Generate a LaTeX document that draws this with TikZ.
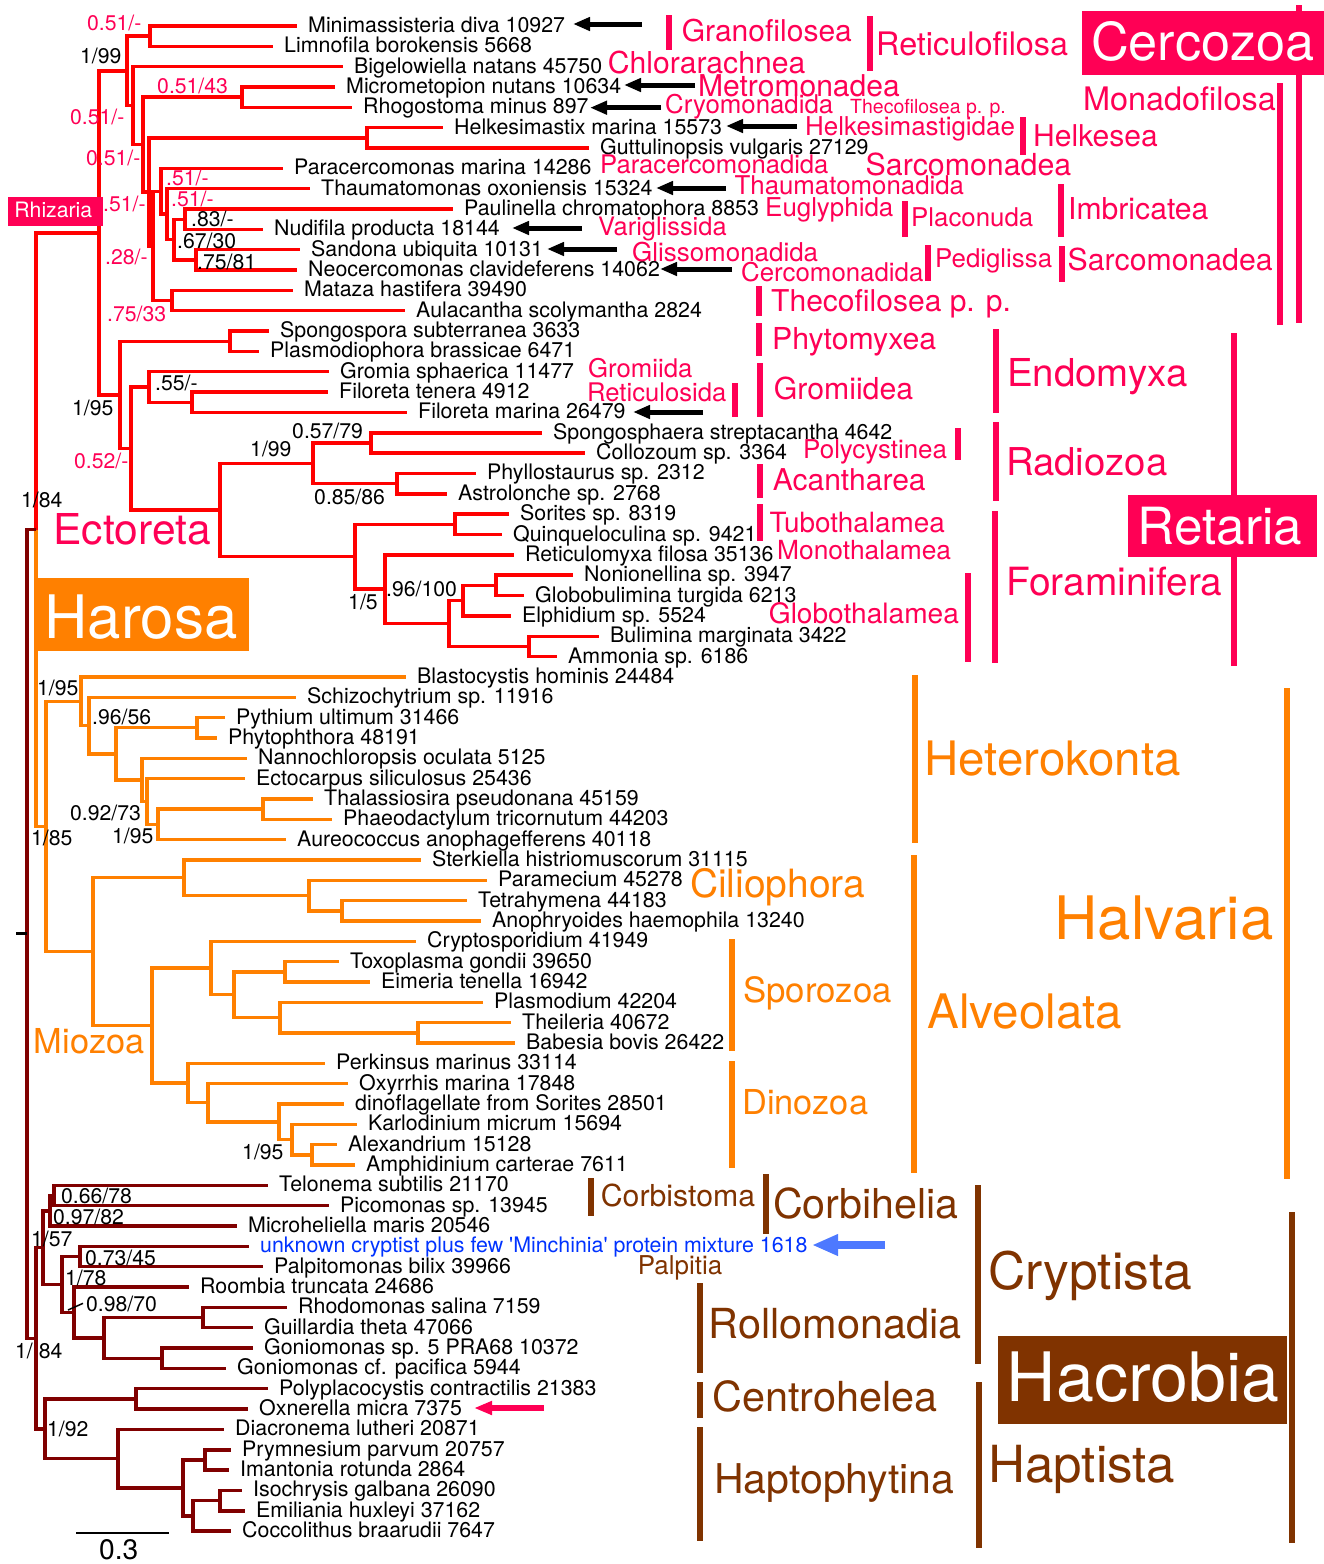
\documentclass[tikz,border=0pt]{standalone}
\usepackage{fontspec}
\setmainfont{TeX Gyre Heros}
\usetikzlibrary{calc,arrows.meta}
\definecolor{tred}{RGB}{255,0,0}
\definecolor{tora}{RGB}{255,128,0}
\definecolor{tmar}{RGB}{128,0,0}
\definecolor{cpink}{RGB}{255,0,85}
\definecolor{cbrown}{RGB}{128,51,0}
\definecolor{cblue}{RGB}{0,51,255}
\definecolor{ablue}{RGB}{77,121,255}
\newcommand\FS[1]{\fontsize{\fpeval{round(#1*1.025,2)}}{\fpeval{round(#1*1.025,2)}}\selectfont}
\newcommand\lf[4]{\coordinate (#1) at (#2,{26+(#3-1)*20.34}); \node[leaf] (#1t) at (#1) {#4};}
\newcommand\inode[4]{\coordinate (#1m) at ($(#3)!0.5!(#4)$); \coordinate (#1x) at (#2,0); \coordinate (#1) at (#1x |- #1m);}
\newcommand\ed[4]{\draw[#1] (#2) |- (#3) (#2) |- (#4);}
\newcommand\clbar[5]{\coordinate (#2a) at (#3,#4); \coordinate (#2b) at (#3,#5); \draw[#1] (#2a) -- (#2b);}
\newcommand\arw[5]{\coordinate (#2s) at (#3,#5); \coordinate (#2e) at (#4,#5); \draw[#1] (#2s) -- (#2e);}
\begin{document}
\begin{tikzpicture}[x=1pt,y=-1pt,
 leaf/.style={anchor=base west, inner sep=0pt, font=\FS{20.85}, xshift=11pt, yshift=-6.5pt},
 sup/.style={anchor=base west, inner sep=0pt, font=\FS{20.7}},
 lab/.style={anchor=base west, inner sep=0pt},
 rbr/.style={draw=tred, line width=3.4pt},
 obr/.style={draw=tora, line width=3.4pt},
 mbr/.style={draw=tmar, line width=3.4pt},
 pbar/.style={draw=cpink, line width=5.5pt},
 obar/.style={draw=tora, line width=5.5pt},
 bbar/.style={draw=cbrown, line width=5.5pt},
 barr/.style={draw=black, line width=5pt, -{Triangle[length=17pt,width=13pt]}},
]
\useasboundingbox (0,0) rectangle (1324,1564);
\fill[white] (0,0) rectangle (1324,1564);
% ---------------- leaves
\lf{Mini}{297}{1}{Minimassisteria diva 10927}
\lf{Limn}{273}{2}{Limnofila borokensis 5668}
\lf{Bige}{343}{3}{Bigelowiella natans 45750}
\lf{Micr}{335}{4}{Micrometopion nutans 10634}
\lf{Rhog}{352}{5}{Rhogostoma minus 897}
\lf{Helk}{443}{6}{Helkesimastix marina 15573}
\lf{Gutt}{589}{7}{Guttulinopsis vulgaris 27129}
\lf{Para}{283}{8}{Paracercomonas marina 14286}
\lf{Thau}{310}{9}{Thaumatomonas oxoniensis 15324}
\lf{Paul}{453}{10}{Paulinella chromatophora 8853}
\lf{Nudi}{263}{11}{Nudifila producta 18144}
\lf{Sand}{300}{12}{Sandona ubiquita 10131}
\lf{Neoc}{297}{13}{Neocercomonas clavideferens 14062}
\lf{Mata}{293}{14}{Mataza hastifera 39490}
\lf{Aula}{405}{15}{Aulacantha scolymantha 2824}
\lf{Spon}{269}{16}{Spongospora subterranea 3633}
\lf{Plas}{259}{17}{Plasmodiophora brassicae 6471}
\lf{Grom}{329}{18}{Gromia sphaerica 11477}
\lf{Filt}{328}{19}{Filoreta tenera 4912}
\lf{Film}{407}{20}{Filoreta marina 26479}
\lf{Spgs}{542}{21}{Spongosphaera streptacantha 4642}
\lf{Coll}{585}{22}{Collozoum sp. 3364}
\lf{Phyl}{476}{23}{Phyllostaurus sp. 2312}
\lf{Astr}{447}{24}{Astrolonche sp. 2768}
\lf{Sori}{509}{25}{Sorites sp. 8319}
\lf{Quin}{502}{26}{Quinqueloculina sp. 9421}
\lf{Reti}{514}{27}{Reticulomyxa filosa 35136}
\lf{Noni}{573}{28}{Nonionellina sp. 3947}
\lf{Glob}{524}{29}{Globobulimina turgida 6213}
\lf{Elph}{511}{30}{Elphidium sp. 5524}
\lf{Buli}{599}{31}{Bulimina marginata 3422}
\lf{Ammo}{557}{32}{Ammonia sp. 6186}
\lf{Blas}{406}{33}{Blastocystis hominis 24484}
\lf{Schi}{296}{34}{Schizochytrium sp. 11916}
\lf{Pyth}{225}{35}{Pythium ultimum 31466}
\lf{Phyt}{217}{36}{Phytophthora 48191}
\lf{Nann}{247}{37}{Nannochloropsis oculata 5125}
\lf{Ecto}{245}{38}{Ectocarpus siliculosus 25436}
\lf{Thal}{313}{39}{Thalassiosira pseudonana 45159}
\lf{Phae}{332}{40}{Phaeodactylum tricornutum 44203}
\lf{Aure}{286}{41}{Aureococcus anophagefferens 40118}
\lf{Ster}{421}{42}{Sterkiella histriomuscorum 31115}
\lf{Pame}{487}{43}{Paramecium 45278}
\lf{Tetr}{467}{44}{Tetrahymena 44183}
\lf{Anop}{481}{45}{Anophryoides haemophila 13240}
\lf{Cryp}{416}{46}{Cryptosporidium 41949}
\lf{Toxo}{339}{47}{Toxoplasma gondii 39650}
\lf{Eime}{370}{48}{Eimeria tenella 16942}
\lf{Plsm}{483}{49}{Plasmodium 42204}
\lf{Thei}{511}{50}{Theileria 40672}
\lf{Babe}{515}{51}{Babesia bovis 26422}
\lf{Perk}{325}{52}{Perkinsus marinus 33114}
\lf{Oxyr}{348}{53}{Oxyrrhis marina 17848}
\lf{Dino}{344}{54}{dinoflagellate from Sorites 28501}
\lf{Karl}{357}{55}{Karlodinium micrum 15694}
\lf{Alex}{337}{56}{Alexandrium 15128}
\lf{Amph}{355}{57}{Amphidinium carterae 7611}
\lf{Telo}{268}{58}{Telonema subtilis 21170}
\lf{Pico}{329}{59}{Picomonas sp. 13945}
\lf{Mhel}{237}{60}{Microheliella maris 20546}
\lf{Unkn}{249}{61}{\textcolor{cblue}{unknown cryptist plus few \textquotesingle Minchinia\textquotesingle{} protein mixture 1618}}
\lf{Palp}{263}{62}{Palpitomonas bilix 39966}
\lf{Room}{189}{63}{Roombia truncata 24686}
\lf{Rhod}{287}{64}{Rhodomonas salina 7159}
\lf{Guil}{253}{65}{Guillardia theta 47066}
\lf{Gonf}{253}{66}{Goniomonas sp. 5 PRA68 10372}
\lf{Gonp}{226}{67}{Goniomonas cf. pacifica 5944}
\lf{Poly}{268}{68}{Polyplacocystis contractilis 21383}
\lf{Oxne}{248}{69}{Oxnerella micra 7375}
\lf{Diac}{224}{70}{Diacronema lutheri 20871}
\lf{Prym}{231}{71}{Prymnesium parvum 20757}
\lf{Iman}{229}{72}{Imantonia rotunda 2864}
\lf{Isoc}{242}{73}{Isochrysis galbana 26090}
\lf{Emil}{245}{74}{Emiliania huxleyi 37162}
\lf{Cocc}{231}{75}{Coccolithus braarudii 7647}
% ---------------- internal nodes
\inode{nGran}{150}{Mini}{Limn}
\inode{nMetc}{242}{Micr}{Rhog}
\inode{nHelk}{367}{Helk}{Gutt}
\inode{nF}{185}{Paul}{Nudi}
\inode{nG}{196}{Sand}{Neoc}
\inode{nE}{174}{nF}{nG}
\inode{nD}{167}{Thau}{nE}
\inode{nPara}{161}{Para}{nD}
\inode{nMata}{172}{Mata}{Aula}
\inode{nB}{153}{nPara}{nMata}
\inode{nC}{149}{nHelk}{nB}
\inode{nA}{143}{nMetc}{nC}
\inode{nBig}{133}{Bige}{nA}
\inode{nCerc}{127}{nGran}{nBig}
\inode{nPhyt}{230}{Spon}{Plas}
\inode{nFilo}{192}{Filt}{Film}
\inode{nGrom}{149}{Grom}{nFilo}
\inode{nPolc}{371}{Spgs}{Coll}
\inode{nAcan}{397}{Phyl}{Astr}
\inode{nRadz}{313}{nPolc}{nAcan}
\inode{nTubo}{455}{Sori}{Quin}
\inode{nNoGl}{496}{Noni}{Glob}
\inode{nElph}{463}{nNoGl}{Elph}
\inode{nBuAm}{529}{Buli}{Ammo}
\inode{nGlbt}{449}{nElph}{nBuAm}
\inode{nRetm}{385}{Reti}{nGlbt}
\inode{nFora}{355}{nTubo}{nRetm}
\inode{nReta}{220}{nRadz}{nFora}
\inode{nGrRe}{131}{nGrom}{nReta}
\inode{nEnRe}{120}{nPhyt}{nGrRe}
\inode{nRhiz}{99}{nCerc}{nEnRe}
\inode{nPyPh}{197}{Pyth}{Phyt}
\inode{nThPh}{263}{Thal}{Phae}
\inode{nDiat}{158}{nThPh}{Aure}
\inode{nEcto}{147}{Ecto}{nDiat}
\inode{nNann}{142}{Nann}{nEcto}
\inode{nOomy}{116}{nPyPh}{nNann}
\inode{nSchi}{89}{Schi}{nOomy}
\inode{nHete}{81}{Blas}{nSchi}
\inode{nTeAn}{342}{Tetr}{Anop}
\inode{nPame}{309}{Pame}{nTeAn}
\inode{nCili}{184}{Ster}{nPame}
\inode{nToEi}{285}{Toxo}{Eime}
\inode{nThBa}{418}{Thei}{Babe}
\inode{nPlsm}{280}{Plsm}{nThBa}
\inode{nApic}{234}{nToEi}{nPlsm}
\inode{nSpor}{211}{Cryp}{nApic}
\inode{nAlAm}{312}{Alex}{Amph}
\inode{nKarl}{292}{Karl}{nAlAm}
\inode{nDinf}{279}{Dino}{nKarl}
\inode{nOxyr}{208}{Oxyr}{nDinf}
\inode{nDinz}{188}{Perk}{nOxyr}
\inode{nMioz}{152}{nSpor}{nDinz}
\inode{nAlve}{93}{nCili}{nMioz}
\inode{nHalv}{46}{nHete}{nAlve}
\inode{nHaro}{36}{nRhiz}{nHalv}
\inode{nTePi}{54}{Telo}{Pico}
\inode{nCorb}{50}{nTePi}{Mhel}
\inode{nPalp}{80}{Unkn}{Palp}
\inode{nRhGu}{203}{Rhod}{Guil}
\inode{nGoni}{162}{Gonf}{Gonp}
\inode{nCrGo}{104}{nRhGu}{nGoni}
\inode{nRoll}{74}{Room}{nCrGo}
\inode{nCrpt}{62}{nPalp}{nRoll}
\inode{nCoCr}{43}{nCorb}{nCrpt}
\inode{nCent}{136}{Poly}{Oxne}
\inode{nPrIm}{205}{Prym}{Iman}
\inode{nIsEm}{220}{Isoc}{Emil}
\inode{nCocc}{193}{nIsEm}{Cocc}
\inode{nPrym}{183}{nPrIm}{nCocc}
\inode{nHtph}{118}{Diac}{nPrym}
\inode{nHpta}{45}{nCent}{nHtph}
\inode{nHacr}{36}{nCoCr}{nHpta}
\inode{nRoot}{27}{nHaro}{nHacr}
\coordinate (rootx) at (16,0);
\coordinate (rootL) at (rootx |- nRoot);
% ---------------- branches
\ed{rbr}{nGran}{Mini}{Limn}
\ed{rbr}{nMetc}{Micr}{Rhog}
\ed{rbr}{nHelk}{Helk}{Gutt}
\ed{rbr}{nF}{Paul}{Nudi}
\ed{rbr}{nG}{Sand}{Neoc}
\ed{rbr}{nE}{nF}{nG}
\ed{rbr}{nD}{Thau}{nE}
\ed{rbr}{nPara}{Para}{nD}
\ed{rbr}{nMata}{Mata}{Aula}
\ed{rbr}{nB}{nPara}{nMata}
\ed{rbr}{nC}{nHelk}{nB}
\ed{rbr}{nA}{nMetc}{nC}
\ed{rbr}{nBig}{Bige}{nA}
\ed{rbr}{nCerc}{nGran}{nBig}
\ed{rbr}{nPhyt}{Spon}{Plas}
\ed{rbr}{nFilo}{Filt}{Film}
\ed{rbr}{nGrom}{Grom}{nFilo}
\ed{rbr}{nPolc}{Spgs}{Coll}
\ed{rbr}{nAcan}{Phyl}{Astr}
\ed{rbr}{nRadz}{nPolc}{nAcan}
\ed{rbr}{nTubo}{Sori}{Quin}
\ed{rbr}{nNoGl}{Noni}{Glob}
\ed{rbr}{nElph}{nNoGl}{Elph}
\ed{rbr}{nBuAm}{Buli}{Ammo}
\ed{rbr}{nGlbt}{nElph}{nBuAm}
\ed{rbr}{nRetm}{Reti}{nGlbt}
\ed{rbr}{nFora}{nTubo}{nRetm}
\ed{rbr}{nReta}{nRadz}{nFora}
\ed{rbr}{nGrRe}{nGrom}{nReta}
\ed{rbr}{nEnRe}{nPhyt}{nGrRe}
\ed{rbr}{nRhiz}{nCerc}{nEnRe}
\ed{obr}{nPyPh}{Pyth}{Phyt}
\ed{obr}{nThPh}{Thal}{Phae}
\ed{obr}{nDiat}{nThPh}{Aure}
\ed{obr}{nEcto}{Ecto}{nDiat}
\ed{obr}{nNann}{Nann}{nEcto}
\ed{obr}{nOomy}{nPyPh}{nNann}
\ed{obr}{nSchi}{Schi}{nOomy}
\ed{obr}{nHete}{Blas}{nSchi}
\ed{obr}{nTeAn}{Tetr}{Anop}
\ed{obr}{nPame}{Pame}{nTeAn}
\ed{obr}{nCili}{Ster}{nPame}
\ed{obr}{nToEi}{Toxo}{Eime}
\ed{obr}{nThBa}{Thei}{Babe}
\ed{obr}{nPlsm}{Plsm}{nThBa}
\ed{obr}{nApic}{nToEi}{nPlsm}
\ed{obr}{nSpor}{Cryp}{nApic}
\ed{obr}{nAlAm}{Alex}{Amph}
\ed{obr}{nKarl}{Karl}{nAlAm}
\ed{obr}{nDinf}{Dino}{nKarl}
\ed{obr}{nOxyr}{Oxyr}{nDinf}
\ed{obr}{nDinz}{Perk}{nOxyr}
\ed{obr}{nMioz}{nSpor}{nDinz}
\ed{obr}{nAlve}{nCili}{nMioz}
\ed{obr}{nHalv}{nHete}{nAlve}
\draw[rbr] (nHaro) |- (nRhiz);
\draw[obr] (nHaro) |- (nHalv);
\ed{mbr}{nTePi}{Telo}{Pico}
\ed{mbr}{nCorb}{nTePi}{Mhel}
\ed{mbr}{nPalp}{Unkn}{Palp}
\ed{mbr}{nRhGu}{Rhod}{Guil}
\ed{mbr}{nGoni}{Gonf}{Gonp}
\ed{mbr}{nCrGo}{nRhGu}{nGoni}
\ed{mbr}{nRoll}{Room}{nCrGo}
\ed{mbr}{nCrpt}{nPalp}{nRoll}
\ed{mbr}{nCoCr}{nCorb}{nCrpt}
\ed{mbr}{nCent}{Poly}{Oxne}
\ed{mbr}{nPrIm}{Prym}{Iman}
\ed{mbr}{nIsEm}{Isoc}{Emil}
\ed{mbr}{nCocc}{nIsEm}{Cocc}
\ed{mbr}{nPrym}{nPrIm}{nCocc}
\ed{mbr}{nHtph}{Diac}{nPrym}
\ed{mbr}{nHpta}{nCent}{nHtph}
\ed{mbr}{nHacr}{nCoCr}{nHpta}
\ed{mbr}{nRoot}{nHaro}{nHacr}
\draw[black, line width=3pt] (rootL) -- (nRoot);
% ---------------- support values
\begin{scope}[every node/.style={sup, text=cpink}]
\node (s1) at (87,30.7) {0.51/-};
\node (s2) at (157,93.3) {0.51/43};
\node (s3) at (70,124) {0.51/-};
\node (s4) at (86,165) {0.51/-};
\node (s5) at (166,185.7) {.51/-};
\node (s6) at (103,211) {.51/-};
\node (s7) at (171,206.7) {.51/-};
\node (s8) at (105,264.3) {.28/-};
\node (s9) at (107,321) {.75/33};
\node (s10) at (74,468.3) {0.52/-};
\end{scope}
\begin{scope}[every node/.style={sup, text=black}]
\node (k1) at (80,63.3) {1/99};
\node (k2) at (191,226.7) {.83/-};
\node (k3) at (177,248.3) {.67/30};
\node (k4) at (197,269.3) {.75/81};
\node (k5) at (155,390.7) {.55/-};
\node (k6) at (72,415.7) {1/95};
\node (k7) at (21,507.7) {1/84};
\node (k8) at (250,456.7) {1/99};
\node (k9) at (292,438.3) {0.57/79};
\node (k10) at (314,504.3) {0.85/86};
\node (k11) at (348,609.3) {1/5};
\node (k12) at (386,596) {.96/100};
\node (k13) at (37,695) {1/95};
\node (k14) at (92,724.3) {.96/56};
\node (k15) at (70,820.7) {0.92/73};
\node (k16) at (31,845) {1/85};
\node (k17) at (112,843.3) {1/95};
\node (k18) at (242,1159.3) {1/95};
\node (k19) at (61,1203.3) {0.66/78};
\node (k20) at (53,1224.3) {0.97/82};
\node (k21) at (31,1246) {1/57};
\node (k22) at (85,1265) {0.73/45};
\node (k23) at (65,1285) {1/78};
\node (k24) at (86,1311.7) {0.98/70};
\node (k25) at (15,1358.3) {1/ 84};
\node (k26) at (47,1436.7) {1/92};
\end{scope}
\coordinate (ld1) at (68,1310);
\coordinate (ld2) at (83,1303.3);
\draw[black, line width=1.5pt] (ld1) -- (ld2);
% ---------------- clade bars
\clbar{pbar}{bGran}{669}{15}{50}
\clbar{pbar}{bReti}{870}{16}{71}
\clbar{pbar}{bCerc}{1299}{5}{323}
\clbar{pbar}{bMona}{1280}{83}{325}
\clbar{pbar}{bHelk}{1023}{117}{155}
\clbar{pbar}{bPlac}{905}{201}{237}
\clbar{pbar}{bImbr}{1061}{184}{237}
\clbar{pbar}{bPedi}{928}{245}{281}
\clbar{pbar}{bSarc}{1062}{246}{282}
\clbar{pbar}{bThec}{759}{286}{316}
\clbar{pbar}{bPhyt}{759}{323}{356}
\clbar{pbar}{bEndo}{996}{329}{413}
\clbar{pbar}{bReta}{1234}{333}{666}
\clbar{pbar}{bRsid}{735}{383}{417}
\clbar{pbar}{bGrom}{760}{363}{417}
\clbar{pbar}{bPoly}{958}{428}{460}
\clbar{pbar}{bRadz}{996}{422}{501}
\clbar{pbar}{bAcan}{760}{464}{498}
\clbar{pbar}{bTubo}{760}{504}{541}
\clbar{pbar}{bGlob}{968}{573}{662}
\clbar{pbar}{bFora}{995}{511}{663}
\clbar{obar}{bHete}{915}{675}{843}
\clbar{obar}{bHalv}{1287}{688}{1179}
\clbar{obar}{bAlve}{914}{855}{1173}
\clbar{obar}{bSpor}{732}{939}{1051}
\clbar{obar}{bDino}{732}{1061}{1168}
\clbar{bbar}{bCbst}{591}{1178}{1216}
\clbar{bbar}{bCbhl}{766}{1174}{1234}
\clbar{bbar}{bRoll}{700}{1283}{1373}
\clbar{bbar}{bCent}{700}{1382}{1418}
\clbar{bbar}{bHtph}{700}{1427}{1541}
\clbar{bbar}{bCrpt}{978}{1185}{1364}
\clbar{bbar}{bHpta}{979}{1382}{1548}
\clbar{bbar}{bHacr}{1292}{1212}{1543}
% ---------------- boxes
\fill[cpink] (8,197) rectangle (103,226);
\fill[cpink] (1082,11) rectangle (1324,75);
\fill[cpink] (1128,495) rectangle (1317,557);
\fill[tora] (38,578) rectangle (249,651);
\fill[cbrown] (998,1336) rectangle (1287,1424);
\node[lab, text=white, font=\FS{20.7}] (tRhiz) at (14.2,217) {Rhizaria};
\node[lab, text=white, font=\FS{51}] (tCerc) at (1090.8,60) {Cercozoa};
\node[lab, text=white, font=\FS{50}] (tReta) at (1137.6,544) {Retaria};
\node[lab, text=white, font=\FS{58.5}] (tHaro) at (44.4,638) {Harosa};
\node[lab, text=white, font=\FS{66.5}] (tHacr) at (1006.7,1401) {Hacrobia};
% ---------------- clade labels
\begin{scope}[every node/.style={lab, text=cpink}]
\node[font=\FS{29.3}] (cGran) at (681.6,41.7) {Granofilosea};
\node[font=\FS{31.6}] (cReti) at (876,55) {Reticulofilosa};
\node[font=\FS{29.4}] (cChlo) at (607.7,73.3) {Chlorarachnea};
\node[font=\FS{29.3}] (cMetr) at (698,96.7) {Metromonadea};
\node[font=\FS{25.2}] (cCryo) at (665,113.3) {Cryomonadida};
\node[font=\FS{19}] (cThs) at (850,113) {Thecofilosea p. p.};
\node[font=\FS{25.3}] (cHelg) at (805,135) {Helkesimastigidae};
\node[font=\FS{31.6}] (cMona) at (1083,110) {Monadofilosa};
\node[font=\FS{29.3}] (cHelk) at (1033,146) {Helkesea};
\node[font=\FS{25}] (cParc) at (600,173.3) {Paracercomonadida};
\node[font=\FS{29.6}] (cSar1) at (865.5,175.7) {Sarcomonadea};
\node[font=\FS{25.2}] (cThau) at (734.4,194.3) {Thaumatomonadida};
\node[font=\FS{25.3}] (cEugl) at (765,216.7) {Euglyphida};
\node[font=\FS{25.2}] (cPlac) at (911,226) {Placonuda};
\node[font=\FS{29.4}] (cImbr) at (1068,219.3) {Imbricatea};
\node[font=\FS{24.8}] (cVari) at (598,235.7) {Variglissida};
\node[font=\FS{25.3}] (cGlis) at (632,261) {Glissomonadida};
\node[font=\FS{25.2}] (cCerm) at (741,281) {Cercomonadida};
\node[font=\FS{25.2}] (cPedi) at (935,267.7) {Pediglissa};
\node[font=\FS{29.5}] (cSar2) at (1067.5,270.7) {Sarcomonadea};
\node[font=\FS{29.3}] (cThec) at (771,311.7) {Thecofilosea p. p.};
\node[font=\FS{29.5}] (cPhyt) at (772,349.3) {Phytomyxea};
\node[font=\FS{37.5}] (cEndo) at (1007,386.7) {Endomyxa};
\node[font=\FS{25.1}] (cGrda) at (588,377.7) {Gromiida};
\node[font=\FS{25}] (cRsid) at (587,401) {Reticulosida};
\node[font=\FS{29.5}] (cGrom) at (773.6,399) {Gromiidea};
\node[font=\FS{25.3}] (cPoly) at (803,458) {Polycystinea};
\node[font=\FS{37.4}] (cRadz) at (1006,475) {Radiozoa};
\node[font=\FS{29.3}] (cAcan) at (772.6,490) {Acantharea};
\node[font=\FS{27.2}] (cTubo) at (769.4,532) {Tubothalamea};
\node[font=\FS{25.7}] (cMono) at (777,559) {Monothalamea};
\node[font=\FS{27.4}] (cGlob) at (768.7,623) {Globothalamea};
\node[font=\FS{37.9}] (cFora) at (1006,595) {Foraminifera};
\node[font=\FS{41.5}] (cEcto) at (53.4,544) {Ectoreta};
\end{scope}
\begin{scope}[every node/.style={lab, text=tora}]
\node[font=\FS{46.3}] (cHete) at (924.4,775) {Heterokonta};
\node[font=\FS{58.5}] (cHalv) at (1054.4,939) {Halvaria};
\node[font=\FS{46.4}] (cAlve) at (927.4,1028) {Alveolata};
\node[font=\FS{38}] (cCili) at (690,897) {Ciliophora};
\node[font=\FS{33.9}] (cSpor) at (743,1002) {Sporozoa};
\node[font=\FS{33.5}] (cDino) at (742,1114) {Dinozoa};
\node[font=\FS{33.5}] (cMioz) at (33.6,1053) {Miozoa};
\end{scope}
\begin{scope}[every node/.style={lab, text=cbrown}]
\node[font=\FS{29.5}] (cCbst) at (600.7,1206) {Corbistoma};
\node[font=\FS{40.2}] (cCbhl) at (773,1218) {Corbihelia};
\node[font=\FS{25.3}] (cPalp) at (637.7,1274) {Palpitia};
\node[font=\FS{40.4}] (cRoll) at (708.4,1338) {Rollomonadia};
\node[font=\FS{40.4}] (cCent) at (712,1411) {Centrohelea};
\node[font=\FS{40}] (cHtph) at (714,1493) {Haptophytina};
\node[font=\FS{50.3}] (cCrpt) at (987.8,1289) {Cryptista};
\node[font=\FS{49.9}] (cHpta) at (988,1482) {Haptista};
\end{scope}
% ---------------- arrows
\arw{barr}{a1}{642}{573}{24}
\arw{barr}{a2}{695}{624}{85}
\arw{barr}{a3}{661}{590}{107.7}
\arw{barr}{a4}{797}{726}{126}
\arw{barr}{a5}{726}{656}{188}
\arw{barr}{a6}{582}{512}{228}
\arw{barr}{a7}{617}{547}{249}
\arw{barr}{a8}{732}{660}{269}
\arw{barr}{a9}{703}{633}{412}
\arw{draw=ablue, line width=8pt, -{Triangle[length=26pt,width=20pt]}}{ab}{885}{812}{1245}
\arw{draw=cpink, line width=6pt, -{Triangle[length=18pt,width=13pt]}}{ap}{544}{474}{1408}
% ---------------- scale bar
\coordinate (sc1) at (76,1533);
\coordinate (sc2) at (169,1533);
\draw[black, line width=2.2pt] (sc1) -- (sc2);
\node[lab, font=\FS{27.5}] (scl) at (99,1559.5) {0.3};
\end{tikzpicture}
\end{document}
